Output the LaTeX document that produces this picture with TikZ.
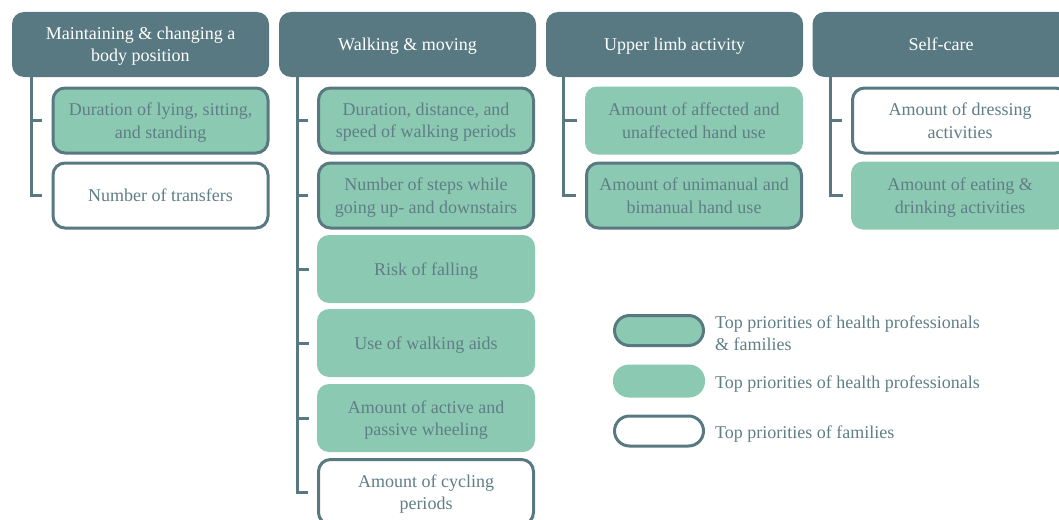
\documentclass[tikz,border=0pt]{standalone}
\usepackage{fontspec}
\setmainfont{Liberation Serif}
\definecolor{slate}{HTML}{587981}
\definecolor{mint}{HTML}{8CC9B2}
\definecolor{inktxt}{HTML}{5F7E86}
\begin{document}
\begin{tikzpicture}[x=1pt,y=-1pt,
  font=\fontsize{18}{22.5}\selectfont,
  header/.style={fill=slate, text=white, rounded corners=12pt,
    minimum width=257pt, minimum height=65pt, align=center, inner sep=0pt,
    text depth=0pt},
  item/.style={rounded corners=12pt, align=center, inner sep=0pt, text=inktxt,
    text depth=0pt},
  both/.style={item, fill=mint, draw=slate, line width=3pt,
    minimum width=215pt, minimum height=65pt},
  pro/.style={item, fill=mint, minimum width=218pt, minimum height=68pt},
  fam/.style={item, fill=white, draw=slate, line width=3pt,
    minimum width=215pt, minimum height=65pt},
  keyboth/.style={fill=mint, draw=slate, line width=3pt, rounded corners=15pt,
    minimum width=89pt, minimum height=30pt, inner sep=0pt},
  keypro/.style={fill=mint, rounded corners=16pt,
    minimum width=92pt, minimum height=33pt, inner sep=0pt},
  keyfam/.style={fill=white, draw=slate, line width=3pt, rounded corners=15pt,
    minimum width=89pt, minimum height=30pt, inner sep=0pt},
  keytext/.style={anchor=west, align=left, text=inktxt, inner sep=0pt,
    text depth=0pt},
  tree/.style={draw=slate, line width=3pt}]
\useasboundingbox (0,0) rectangle (1059,519);

% category headers
\node[header] (h1) at (140.5,44.5) {Maintaining \& changing a\\body position};
\node[header] (h2) at (407.5,44.5) {Walking \& moving};
\node[header] (h3) at (674.5,44.5) {Upper limb activity};
\node[header] (h4) at (941,44.5) {Self-care};

% body position
\node[both] (a1) at (160.5,120.5) {Duration of lying, sitting,\\and standing};
\node[fam]  (a2) at (160.5,195.5) {Number of transfers};

% walking and moving
\node[both] (b1) at (426,120.5) {Duration, distance, and\\speed of walking periods};
\node[both] (b2) at (426,195.5) {Number of steps while\\going up- and downstairs};
\node[pro]  (b3) at (426,269) {Risk of falling};
\node[pro]  (b4) at (426,343) {Use of walking aids};
\node[pro]  (b5) at (426,418) {Amount of active and\\passive wheeling};
\node[fam]  (b6) at (426,492) {Amount of cycling\\periods};

% upper limb
\node[pro]  (c1) at (694,120.5) {Amount of affected and\\unaffected hand use};
\node[both] (c2) at (694,195.5) {Amount of unimanual and\\bimanual hand use};

% self-care
\node[fam]  (d1) at (960,120.5) {Amount of dressing\\activities};
\node[pro]  (d2) at (960,195.5) {Amount of eating \&\\drinking activities};

% tree connectors
\coordinate (ra) at ([xshift=20pt]h1.south west);
\coordinate (rb) at ([xshift=19pt]h2.south west);
\coordinate (rc) at ([xshift=18pt]h3.south west);
\coordinate (rd) at ([xshift=18pt]h4.south west);
\foreach \n in {a1,a2} \draw[tree] (ra) |- ([xshift=-10pt]\n.west);
\foreach \n in {b1,b2,b6} \draw[tree] (rb) |- ([xshift=-9pt]\n.west);
\foreach \n in {b3,b4,b5} \draw[tree] (rb) |- ([xshift=-8pt]\n.west);
\draw[tree] (rc) |- ([xshift=-8pt]c1.west);
\draw[tree] (rc) |- ([xshift=-9pt]c2.west);
\draw[tree] (rd) |- ([xshift=-9pt]d1.west);
\draw[tree] (rd) |- ([xshift=-8pt]d2.west);

% legend
\node[keyboth] (k1) at (659,330.5) {};
\node[keypro]  (k2) at (659,381) {};
\node[keyfam]  (k3) at (659,431) {};
\node[keytext] (t1) at (715,333) {Top priorities of health professionals\\\& families};
\node[keytext] (t2) at (715,382) {Top priorities of health professionals};
\node[keytext] (t3) at (715,432) {Top priorities of families};
\end{tikzpicture}
\end{document}
